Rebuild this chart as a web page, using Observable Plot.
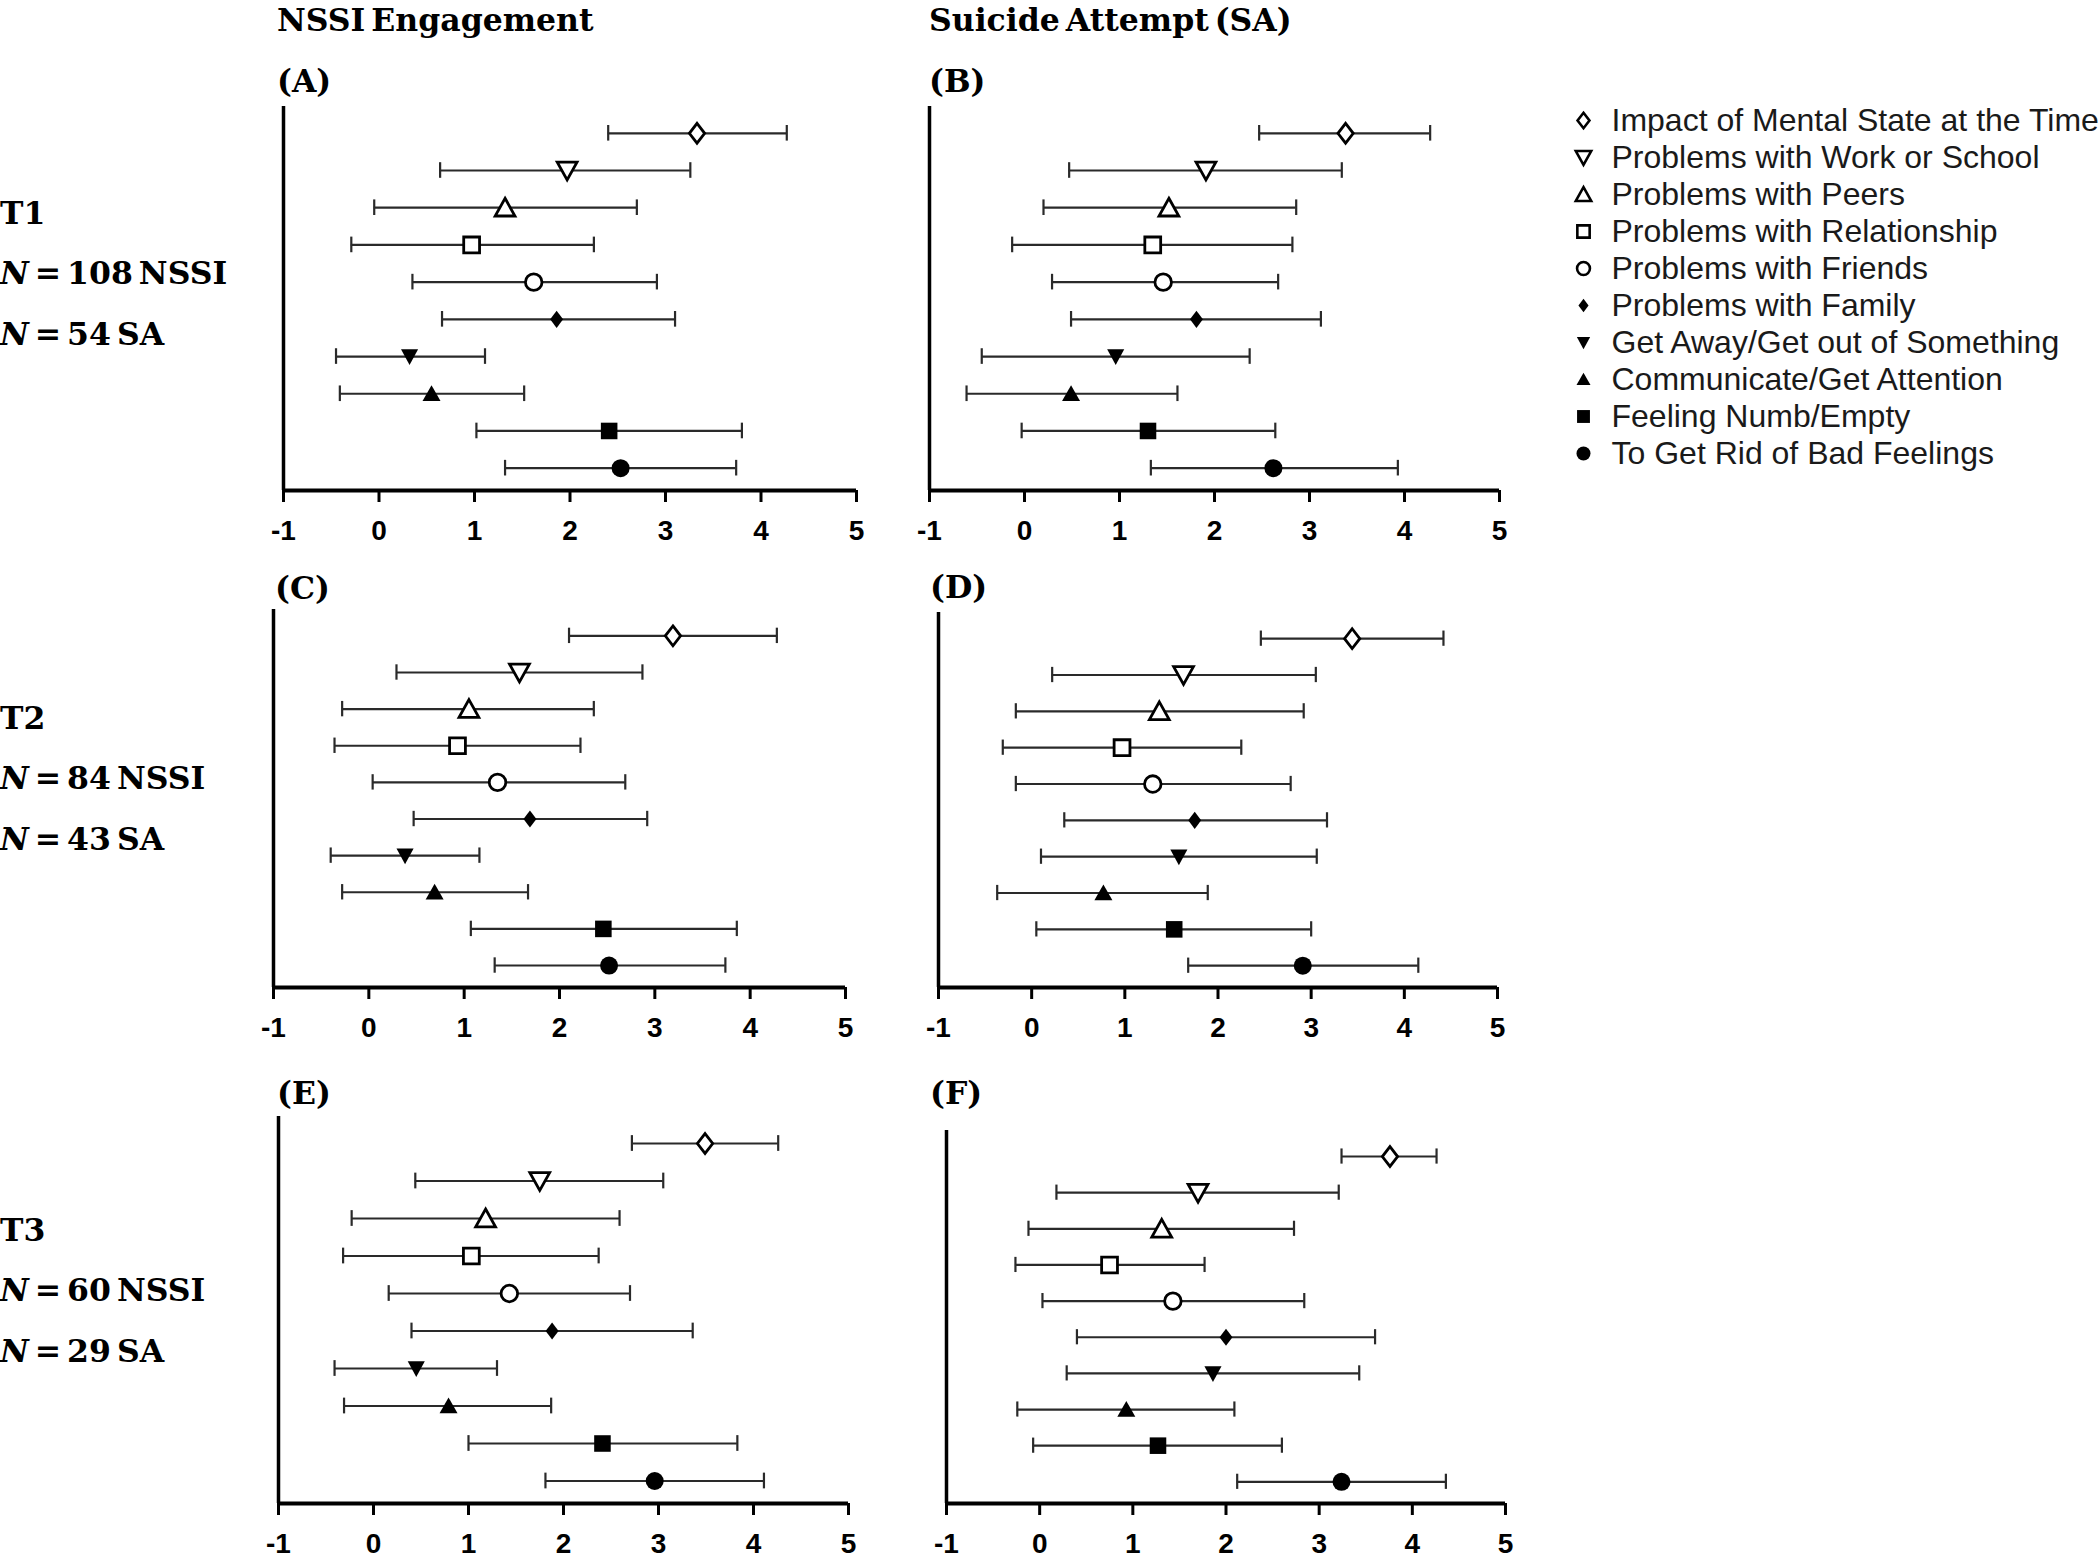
<!DOCTYPE html>
<html><head><meta charset="utf-8">
<script src="https://cdn.jsdelivr.net/npm/d3@7"></script>
<script src="https://cdn.jsdelivr.net/npm/@observablehq/plot@0.6"></script>
<style>
body{margin:0;background:#fff;}
#page{position:relative;width:2100px;height:1559px;background:#fff;overflow:hidden;}
.serif{position:absolute;font-family:"DejaVu Serif",serif;font-weight:bold;font-size:31.5px;line-height:37px;word-spacing:-5px;color:#000;white-space:nowrap;}
.serif i{font-style:italic;}
</style></head><body><div id="page"></div>
<script>
// ---------------- DATA ----------------
const categories = [
  "Impact of Mental State at the Time",
  "Problems with Work or School",
  "Problems with Peers",
  "Problems with Relationship",
  "Problems with Friends",
  "Problems with Family",
  "Get Away/Get out of Something",
  "Communicate/Get Attention",
  "Feeling Numb/Empty",
  "To Get Rid of Bad Feelings"
];
const columnTitles = ["NSSI Engagement", "Suicide Attempt (SA)"];
const panelLabels = ["(A)", "(B)", "(C)", "(D)", "(E)", "(F)"];
const timeLabels = ["T1", "T2", "T3"];
const nNSSI = [108, 84, 60];
const nSA = [54, 43, 29];
const tickValues = [-1, 0, 1, 2, 3, 4, 5];
const tickLabels = ["-1", "0", "1", "2", "3", "4", "5"];

const A_mean = [3.33, 1.97, 1.32, 0.97, 1.62, 1.86, 0.32, 0.55, 2.41, 2.53];
const A_low  = [2.40, 0.64, -0.05, -0.29, 0.35, 0.66, -0.45, -0.41, 1.02, 1.32];
const A_high = [4.27, 3.26, 2.70, 2.25, 2.91, 3.10, 1.11, 1.52, 3.80, 3.74];

const B_mean = [3.38, 1.91, 1.52, 1.35, 1.46, 1.81, 0.96, 0.49, 1.30, 2.62];
const B_low  = [2.47, 0.47, 0.20, -0.13, 0.29, 0.49, -0.45, -0.61, -0.03, 1.33];
const B_high = [4.27, 3.34, 2.86, 2.82, 2.67, 3.12, 2.37, 1.61, 2.64, 3.93];

const C_mean = [3.19, 1.58, 1.05, 0.93, 1.35, 1.69, 0.38, 0.69, 2.46, 2.52];
const C_low  = [2.10, 0.29, -0.28, -0.36, 0.04, 0.47, -0.40, -0.28, 1.07, 1.32];
const C_high = [4.28, 2.87, 2.36, 2.22, 2.69, 2.92, 1.16, 1.67, 3.86, 3.74];

const D_mean = [3.44, 1.63, 1.37, 0.97, 1.30, 1.75, 1.58, 0.77, 1.53, 2.91];
const D_low  = [2.46, 0.22, -0.17, -0.31, -0.17, 0.35, 0.10, -0.37, 0.05, 1.68];
const D_high = [4.42, 3.05, 2.92, 2.25, 2.78, 3.17, 3.06, 1.89, 3.00, 4.15];

const E_mean = [3.49, 1.75, 1.18, 1.03, 1.43, 1.88, 0.45, 0.79, 2.41, 2.96];
const E_low  = [2.72, 0.44, -0.23, -0.32, 0.16, 0.40, -0.41, -0.31, 1.00, 1.81];
const E_high = [4.26, 3.05, 2.59, 2.37, 2.70, 3.36, 1.30, 1.87, 3.83, 4.11];

const F_mean = [3.76, 1.70, 1.31, 0.75, 1.43, 2.00, 1.86, 0.93, 1.27, 3.24];
const F_low  = [3.24, 0.18, -0.12, -0.26, 0.03, 0.40, 0.29, -0.24, -0.07, 2.12];
const F_high = [4.26, 3.21, 2.73, 1.77, 2.84, 3.60, 3.43, 2.09, 2.60, 4.36];

// ---------------- LAYOUT / STYLE ----------------
const panels = [
  {mean: A_mean, low: A_low, high: A_high, L: 283, R: 856, T: 106, B: 490},
  {mean: B_mean, low: B_low, high: B_high, L: 929, R: 1499, T: 106, B: 490},
  {mean: C_mean, low: C_low, high: C_high, L: 273, R: 845, T: 609, B: 987},
  {mean: D_mean, low: D_low, high: D_high, L: 938, R: 1497, T: 612, B: 987},
  {mean: E_mean, low: E_low, high: E_high, L: 278, R: 848, T: 1116, B: 1503},
  {mean: F_mean, low: F_low, high: F_high, L: 946, R: 1505, T: 1130, B: 1503}
];
const yDomain = [-0.72, 9.6];
const tickFont = "'Liberation Sans Narrow', 'Arial Narrow', 'Liberation Sans', Arial, sans-serif";

function shape(fn) { return {draw(ctx, size) { fn(ctx, Math.sqrt(size / Math.PI)); }}; }
const poly = pts => shape((ctx, r) => {
  ctx.moveTo(pts[0][0] * r, pts[0][1] * r);
  for (let i = 1; i < pts.length; i++) ctx.lineTo(pts[i][0] * r, pts[i][1] * r);
  ctx.closePath();
});
const circ = k => shape((ctx, r) => { ctx.moveTo(k * r, 0); ctx.arc(0, 0, k * r, 0, 2 * Math.PI); ctx.closePath(); });
const symbols = [
  poly([[0, -1.1], [0.85, 0], [0, 1.1], [-0.85, 0]]),
  poly([[-1.1, -0.92], [1.1, -0.92], [0, 1.05]]),
  poly([[0, -1.05], [1.1, 0.92], [-1.1, 0.92]]),
  poly([[-0.88, -0.88], [0.88, -0.88], [0.88, 0.88], [-0.88, 0.88]]),
  circ(0.92),
  poly([[0, -0.95], [0.72, 0], [0, 0.95], [-0.72, 0]]),
  poly([[-0.95, -0.8], [0.95, -0.8], [0, 0.95]]),
  poly([[0, -0.95], [1.0, 0.8], [-1.0, 0.8]]),
  poly([[-0.92, -0.92], [0.92, -0.92], [0.92, 0.92], [-0.92, 0.92]]),
  circ(1.0)
];
const isFilled = i => i >= 5;

const page = document.getElementById("page");
function place(el, left, top) {
  el.style.position = "absolute";
  el.style.left = left + "px";
  el.style.top = top + "px";
  page.appendChild(el);
}
function serifText(html, left, baseline) {
  const d = document.createElement("div");
  d.className = "serif";
  d.innerHTML = html;
  place(d, left, baseline - 29.4);
}

// ---------------- PANELS ----------------
const mL = 25, mR = 25, mT = 3, mB = 66;
panels.forEach((p, pi) => {
  const rows = categories.map((c, i) => ({cat: c, row: i, mean: p.mean[i], low: p.low[i], high: p.high[i], filled: isFilled(i)}));
  const chart = Plot.plot({
    width: (p.R - p.L) + mL + mR,
    height: (p.B - p.T) + mT + mB,
    marginLeft: mL, marginRight: mR, marginTop: mT, marginBottom: mB,
    style: {fontFamily: tickFont, fontSize: "28px", fontWeight: "bold", background: "transparent", overflow: "visible", color: "#000"},
    x: {domain: [tickValues[0], tickValues[tickValues.length - 1]]},
    y: {domain: yDomain, reverse: true, axis: null},
    symbol: {domain: categories, range: symbols},
    marks: [
      Plot.ruleY(rows, {y: "row", x1: "low", x2: "high", stroke: "#2a2a2a", strokeWidth: 2.2}),
      Plot.ruleX(rows, {x: "low", y1: d => d.row - 0.21, y2: d => d.row + 0.21, stroke: "#2a2a2a", strokeWidth: 2.2}),
      Plot.ruleX(rows, {x: "high", y1: d => d.row - 0.21, y2: d => d.row + 0.21, stroke: "#2a2a2a", strokeWidth: 2.2}),
      Plot.dot(rows.filter(d => !d.filled), {x: "mean", y: "row", symbol: "cat", r: 9, fill: "white", stroke: "black", strokeWidth: 2.8}),
      Plot.dot(rows.filter(d => d.filled), {x: "mean", y: "row", symbol: "cat", r: 9, fill: "black", stroke: "none"}),
      Plot.ruleX([tickValues[0]], {y1: yDomain[0], y2: yDomain[1], stroke: "black", strokeWidth: 3.5}),
      Plot.ruleY([yDomain[1]], {x1: tickValues[0], x2: tickValues[tickValues.length - 1], stroke: "black", strokeWidth: 4}),
      Plot.axisX({ticks: tickValues, tickFormat: d => tickLabels[tickValues.indexOf(d)], tickSize: 12, tickPadding: 18, strokeWidth: 3, fontSize: 28, fontWeight: "bold", label: null})
    ]
  });
  place(chart, p.L - mL, p.T - mT);
});

// ---------------- LEGEND ----------------
const legRows = categories.map((c, i) => ({cat: c, filled: isFilled(i)}));
const legend = Plot.plot({
  width: 540, height: 378,
  marginLeft: 26, marginRight: 0, marginTop: 20, marginBottom: 20,
  style: {fontFamily: "'Liberation Sans', Arial, sans-serif", fontSize: "32px", background: "transparent", overflow: "visible"},
  x: {domain: [0, 1], axis: null},
  y: {type: "point", domain: categories, padding: 0, axis: null},
  symbol: {domain: categories, range: symbols},
  marks: [
    Plot.dot(legRows.filter(d => !d.filled), {x: 0, y: "cat", symbol: "cat", r: 7, fill: "white", stroke: "black", strokeWidth: 2.6}),
    Plot.dot(legRows.filter(d => d.filled), {x: 0, y: "cat", symbol: "cat", r: 7, fill: "black", stroke: "none"}),
    Plot.text(legRows, {x: 0, y: "cat", text: "cat", dx: 28, textAnchor: "start", fontSize: 32, fill: "#1a1a1a"})
  ]
});
place(legend, 1557, 97);

// ---------------- TEXT LABELS ----------------
serifText(columnTitles[0], 277, 30);
serifText(columnTitles[1], 929, 30);
const labelPos = [[277, 91], [929, 91], [275, 598], [930, 597], [277, 1103], [930, 1103]];
panelLabels.forEach((t, i) => serifText(t, labelPos[i][0], labelPos[i][1]));
const timeBase = [223, 728, 1240];
timeLabels.forEach((t, i) => {
  serifText(t, 0, timeBase[i]);
  serifText(`<i>N</i> = ${nNSSI[i]} NSSI`, 0, timeBase[i] + 60);
  serifText(`<i>N</i> = ${nSA[i]} SA`, 0, timeBase[i] + 121);
});
</script></body></html>
